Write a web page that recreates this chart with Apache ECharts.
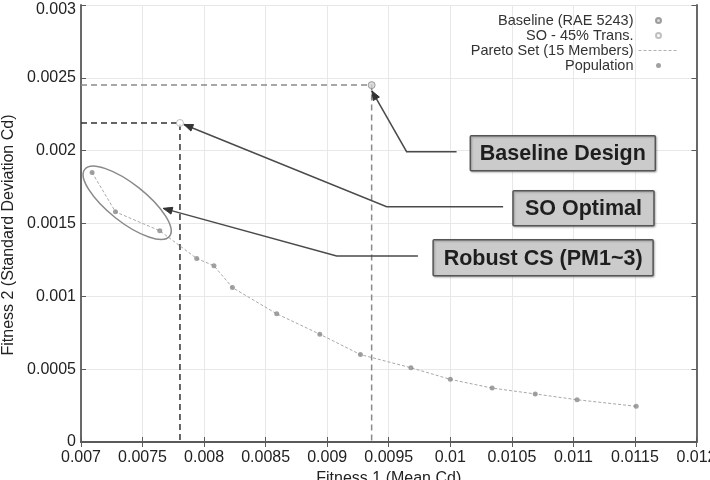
<!DOCTYPE html>
<html><head><meta charset="utf-8">
<script src="https://cdn.jsdelivr.net/npm/echarts@6/dist/echarts.min.js"></script>
<style>html,body{margin:0;padding:0;background:#fff}#c{width:710px;height:480px}</style>
</head><body><div id="c"></div>
<script>
// ---- data ----
const xTicks = ['0.007','0.0075','0.008','0.0085','0.009','0.0095','0.01','0.0105','0.011','0.0115','0.012'];
const yTicks = ['0','0.0005','0.001','0.0015','0.002','0.0025','0.003'];
const paretoX = [0.00709,0.00728,0.00764,0.00794,0.00808,0.00823,0.00859,0.00894,0.00927,0.00968,0.01000,0.01034,0.01069,0.01103,0.01151];
const paretoY = [0.00185,0.00158,0.00145,0.00126,0.00121,0.00106,0.00088,0.00074,0.00060,0.00051,0.00043,0.00037,0.00033,0.00029,0.000245];
const baseline = [0.009361, 0.00245];
const soOptimal = [0.007804, 0.00219];
const legendNames = ['Baseline (RAE 5243)','SO - 45% Trans.','Pareto Set (15 Members)','Population'];
const calloutTexts = ['Baseline Design','SO Optimal','Robust CS (PM1~3)'];
// annotation anchors (data coordinates)
const calloutBoxes = [[0.010914,0.001983],[0.011082,0.001604],[0.010754,0.001265]];
const calloutPaths = [
  [[0.009363,0.002410],[0.009645,0.001993],[0.010051,0.001993]],
  [[0.007836,0.002180],[0.009483,0.001615],[0.010429,0.001615]],
  [[0.007668,0.001604],[0.009077,0.001277],[0.009737,0.001277]]
];
const ellipseCenter = [0.007375,0.001642];

const xMin=0.007,xMax=0.012,xInt=0.0005,yMin=0,yMax=0.003,yInt=0.0005;
const pareto = paretoX.map((x,i)=>[x,paretoY[i]]);
const FONT='Liberation Sans';

const chart = echarts.init(document.getElementById('c'),null,{renderer:'canvas'});
const axisLineStyle={color:'#5a5a5a',width:1.8};
const tick={show:true,inside:true,length:5,lineStyle:{color:'#5a5a5a',width:1}};
const option = {
  animation:false,
  backgroundColor:'#fff',
  textStyle:{fontFamily:FONT},
  grid:{left:81,right:13.5,top:5,bottom:38,outerBoundsMode:'none',containLabel:false},
  legend:{
    data:[legendNames[0],legendNames[1],
      {name:legendNames[2],itemStyle:{opacity:0},lineStyle:{color:'#b0b0b0',width:1,type:[3,2]}},
      legendNames[3]],
    orient:'vertical', align:'right', right:26, top:8,
    itemWidth:40, itemHeight:5, itemGap:0, selectedMode:false,
    textStyle:{fontFamily:FONT,fontSize:14.5,color:'#333',lineHeight:14.3}
  },
  xAxis:[{
    type:'value', min:xMin, max:xMax, interval:xInt,
    name:'Fitness 1 (Mean Cd)', nameLocation:'middle', nameGap:27,
    nameTextStyle:{fontFamily:FONT,fontSize:16,color:'#222'},
    axisLine:{show:true,lineStyle:axisLineStyle},
    axisTick:tick,
    axisLabel:{fontFamily:FONT,fontSize:16,color:'#222',margin:8,
      formatter:(v)=>xTicks[Math.round((v-xMin)/xInt)]},
    splitLine:{show:true,lineStyle:{color:'#e8e8e8',width:1}}
  },{
    type:'value', min:xMin, max:xMax, interval:xInt, position:'top',
    axisLine:{show:true,lineStyle:axisLineStyle},
    axisTick:tick, axisLabel:{show:false}, splitLine:{show:false}
  }],
  yAxis:[{
    type:'value', min:yMin, max:yMax, interval:yInt,
    name:'Fitness 2 (Standard Deviation Cd)', nameLocation:'middle', nameGap:51,
    nameTextStyle:{fontFamily:FONT,fontSize:16,color:'#222',padding:[0,23,0,0]},
    axisLine:{show:true,lineStyle:axisLineStyle},
    axisTick:tick,
    axisLabel:{fontFamily:FONT,fontSize:16,color:'#222',margin:5,
      formatter:(v)=>{const i=Math.round((v-yMin)/yInt);return i===yTicks.length-1?'{top|'+yTicks[i]+'}':yTicks[i];},
      rich:{top:{fontFamily:FONT,fontSize:16,color:'#222',padding:[10,0,0,0]}}},
    splitLine:{show:true,lineStyle:{color:'#e8e8e8',width:1}}
  },{
    type:'value', min:yMin, max:yMax, interval:yInt, position:'right',
    axisLine:{show:true,lineStyle:axisLineStyle},
    axisTick:tick, axisLabel:{show:false}, splitLine:{show:false}
  }],
  series:[
    {name:'_baseRef', type:'line', symbol:'none', silent:true, z:1,
      data:[[xMin,baseline[1]],baseline,[baseline[0],yMin]],
      lineStyle:{color:'#8a8a8a',width:1.5,type:[6,4]}},
    {name:'_soRef', type:'line', symbol:'none', silent:true, z:1,
      data:[[xMin,soOptimal[1]],soOptimal,[soOptimal[0],yMin]],
      lineStyle:{color:'#333',width:1.5,type:[6,4]}},
    {name:legendNames[2], type:'line', symbol:'none', data:pareto, z:2,
      lineStyle:{color:'#a8a8a8',width:1,type:[3,2]}, itemStyle:{color:'#a8a8a8'}},
    {name:legendNames[3], type:'scatter', data:pareto, symbolSize:5, z:3,
      itemStyle:{color:'#8a8a8a'}},
    {name:legendNames[0], type:'scatter', data:[baseline], symbolSize:7, z:4,
      itemStyle:{color:'#d2d2d2',borderColor:'#888',borderWidth:1}},
    {name:legendNames[1], type:'scatter', data:[soOptimal], symbolSize:7, z:4,
      itemStyle:{color:'#fff',borderColor:'#b0b0b0',borderWidth:1}}
  ]
};
chart.setOption(option);

function px(p){return chart.convertToPixel({xAxisIndex:0,yAxisIndex:0},p);}
const boxSizes=[[185,35],[141,35],[220,36]];
const graphics=[];
calloutTexts.forEach((t,i)=>{
  const pts = calloutPaths[i].map(px);
  graphics.push({type:'polyline',shape:{points:pts},style:{stroke:'#4a4a4a',lineWidth:1.5,fill:null},z:10});
  const [tx,ty]=pts[0],[nx,ny]=pts[1];
  const dx=nx-tx,dy=ny-ty,L=Math.hypot(dx,dy),ux=dx/L,uy=dy/L;
  const hl=9,hw=3.5;
  const bx=tx+ux*hl,by=ty+uy*hl;
  graphics.push({type:'polygon',shape:{points:[[tx,ty],[bx-uy*hw,by+ux*hw],[bx+uy*hw,by-ux*hw]]},
    style:{fill:'#333',stroke:'#333'},z:11});
  const c=px(calloutBoxes[i]); const [w,h]=boxSizes[i];
  graphics.push({type:'rect',shape:{x:c[0]-w/2,y:c[1]-h/2,width:w,height:h,r:1},
    style:{fill:'#cbcbcb',stroke:'#555',lineWidth:1.5,shadowBlur:2,shadowColor:'rgba(0,0,0,0.25)',shadowOffsetX:1,shadowOffsetY:1},z:12});
  graphics.push({type:'text',x:c[0],y:c[1]+1,style:{text:t,font:'bold 21.5px "Liberation Sans"',fill:'#1e1e1e',align:'center',verticalAlign:'middle'},z:13});
});
const ec=px(ellipseCenter);
graphics.push({type:'ellipse',x:ec[0],y:ec[1],rotation:-0.668,shape:{cx:0,cy:0,rx:54,ry:19},
  style:{fill:null,stroke:'#8a8a8a',lineWidth:1.5},z:9});
chart.setOption({graphic:graphics});
</script></body></html>
